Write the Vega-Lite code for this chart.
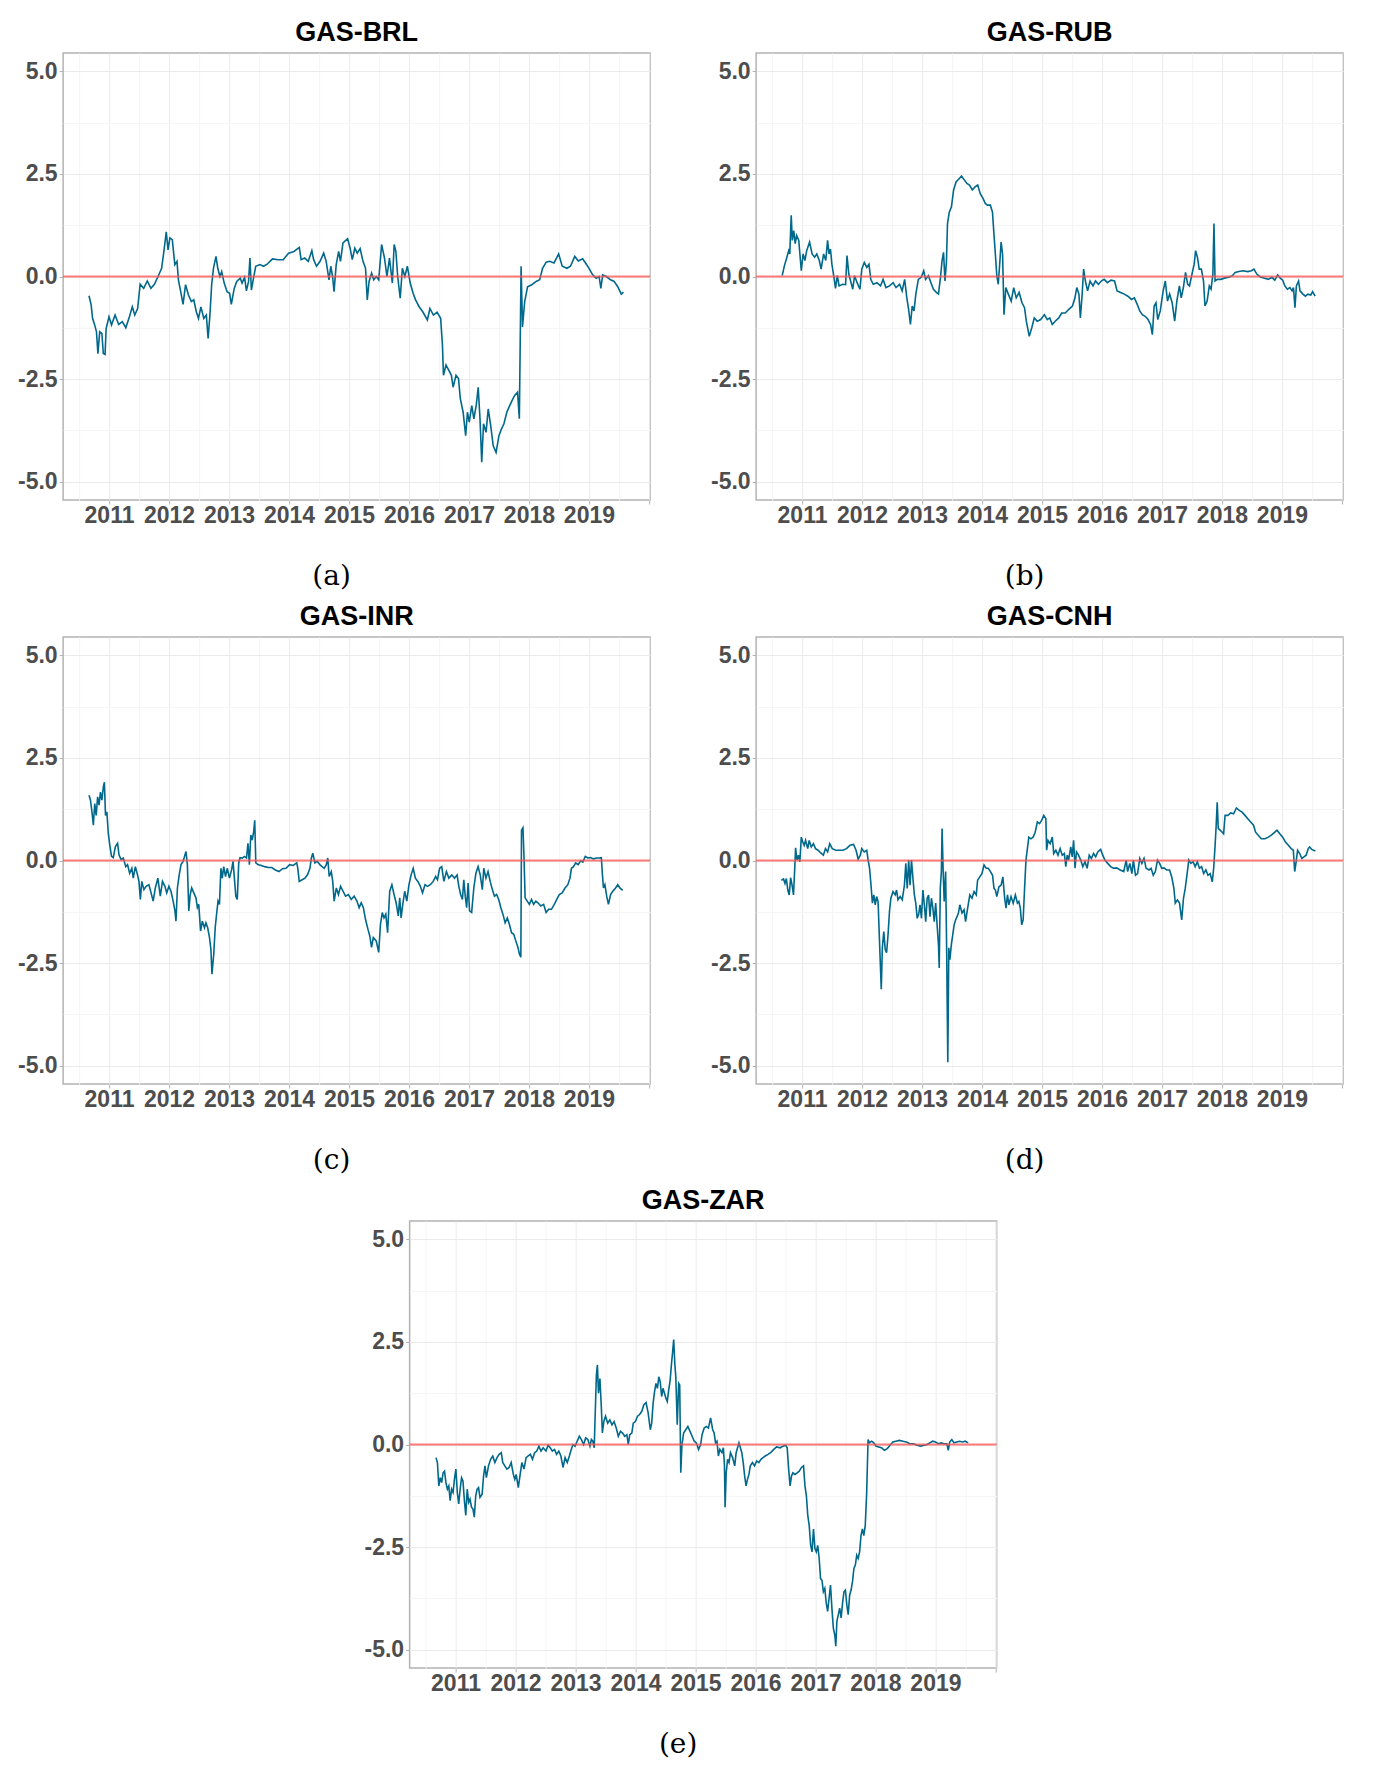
{
  "$schema": "https://vega.github.io/schema/vega-lite/v6.json",
  "padding": {"left": 16, "top": 18, "right": 5, "bottom": 5},
  "background": "white",
  "datasets": {
    "brl": [
      {"t":2010.666,"v":-0.47},{"t":2010.702,"v":-0.69},{"t":2010.726,"v":-1.02},{"t":2010.761,"v":-1.18},{"t":2010.791,"v":-1.35},{"t":2010.815,"v":-1.88},{"t":2010.845,"v":-1.35},{"t":2010.881,"v":-1.39},{"t":2010.905,"v":-1.88},{"t":2010.934,"v":-1.9},{"t":2010.952,"v":-1.27},{"t":2011.0,"v":-0.98},{"t":2011.042,"v":-1.18},{"t":2011.101,"v":-0.94},{"t":2011.161,"v":-1.17},{"t":2011.221,"v":-1.1},{"t":2011.28,"v":-1.25},{"t":2011.34,"v":-0.98},{"t":2011.388,"v":-0.74},{"t":2011.429,"v":-0.94},{"t":2011.477,"v":-0.78},{"t":2011.519,"v":-0.19},{"t":2011.578,"v":-0.29},{"t":2011.638,"v":-0.11},{"t":2011.698,"v":-0.29},{"t":2011.757,"v":-0.19},{"t":2011.817,"v":0},{"t":2011.877,"v":0.2},{"t":2011.918,"v":0.65},{"t":2011.954,"v":1.09},{"t":2011.984,"v":0.65},{"t":2012.014,"v":0.94},{"t":2012.055,"v":0.9},{"t":2012.097,"v":0.29},{"t":2012.133,"v":0.37},{"t":2012.157,"v":-0.08},{"t":2012.205,"v":-0.45},{"t":2012.234,"v":-0.68},{"t":2012.276,"v":-0.2},{"t":2012.324,"v":-0.45},{"t":2012.372,"v":-0.61},{"t":2012.413,"v":-0.57},{"t":2012.455,"v":-0.86},{"t":2012.491,"v":-1.02},{"t":2012.532,"v":-0.74},{"t":2012.58,"v":-1.02},{"t":2012.622,"v":-0.94},{"t":2012.652,"v":-1.51},{"t":2012.682,"v":-0.94},{"t":2012.711,"v":-0.2},{"t":2012.741,"v":0.2},{"t":2012.783,"v":0.49},{"t":2012.813,"v":0.2},{"t":2012.849,"v":0},{"t":2012.878,"v":0.12},{"t":2012.92,"v":-0.16},{"t":2012.968,"v":-0.37},{"t":2013.01,"v":-0.41},{"t":2013.039,"v":-0.68},{"t":2013.087,"v":-0.29},{"t":2013.129,"v":-0.12},{"t":2013.188,"v":-0.04},{"t":2013.218,"v":-0.16},{"t":2013.26,"v":-0.02},{"t":2013.29,"v":-0.35},{"t":2013.326,"v":-0.12},{"t":2013.349,"v":0.45},{"t":2013.373,"v":-0.33},{"t":2013.409,"v":-0.04},{"t":2013.445,"v":0.25},{"t":2013.516,"v":0.29},{"t":2013.576,"v":0.25},{"t":2013.636,"v":0.3},{"t":2013.725,"v":0.43},{"t":2013.815,"v":0.41},{"t":2013.904,"v":0.41},{"t":2013.993,"v":0.57},{"t":2014.083,"v":0.61},{"t":2014.172,"v":0.71},{"t":2014.202,"v":0.41},{"t":2014.262,"v":0.45},{"t":2014.321,"v":0.37},{"t":2014.381,"v":0.63},{"t":2014.411,"v":0.41},{"t":2014.459,"v":0.25},{"t":2014.518,"v":0.37},{"t":2014.578,"v":0.57},{"t":2014.62,"v":0.37},{"t":2014.667,"v":-0.08},{"t":2014.697,"v":0.25},{"t":2014.727,"v":0},{"t":2014.751,"v":-0.37},{"t":2014.787,"v":0.29},{"t":2014.828,"v":0.61},{"t":2014.858,"v":0.37},{"t":2014.9,"v":0.82},{"t":2014.977,"v":0.92},{"t":2015.019,"v":0.69},{"t":2015.055,"v":0.41},{"t":2015.097,"v":0.69},{"t":2015.138,"v":0.57},{"t":2015.186,"v":0.68},{"t":2015.234,"v":0.37},{"t":2015.276,"v":0.2},{"t":2015.305,"v":-0.57},{"t":2015.335,"v":-0.12},{"t":2015.377,"v":0.08},{"t":2015.413,"v":-0.08},{"t":2015.454,"v":0},{"t":2015.496,"v":-0.08},{"t":2015.544,"v":0.78},{"t":2015.592,"v":0.45},{"t":2015.633,"v":0},{"t":2015.675,"v":0.45},{"t":2015.723,"v":-0.16},{"t":2015.753,"v":0.78},{"t":2015.782,"v":0.61},{"t":2015.812,"v":0},{"t":2015.854,"v":-0.53},{"t":2015.89,"v":0.2},{"t":2015.931,"v":0},{"t":2015.973,"v":0.25},{"t":2016.021,"v":-0.16},{"t":2016.069,"v":-0.41},{"t":2016.11,"v":-0.57},{"t":2016.17,"v":-0.74},{"t":2016.23,"v":-0.86},{"t":2016.307,"v":-1.06},{"t":2016.349,"v":-0.78},{"t":2016.408,"v":-0.94},{"t":2016.468,"v":-0.87},{"t":2016.528,"v":-1.02},{"t":2016.558,"v":-1.67},{"t":2016.575,"v":-2.41},{"t":2016.617,"v":-2.16},{"t":2016.665,"v":-2.29},{"t":2016.707,"v":-2.41},{"t":2016.736,"v":-2.7},{"t":2016.784,"v":-2.41},{"t":2016.826,"v":-2.49},{"t":2016.856,"v":-2.98},{"t":2016.903,"v":-3.31},{"t":2016.945,"v":-3.88},{"t":2016.975,"v":-3.31},{"t":2017.005,"v":-3.55},{"t":2017.047,"v":-3.15},{"t":2017.082,"v":-3.47},{"t":2017.124,"v":-3.11},{"t":2017.154,"v":-2.7},{"t":2017.184,"v":-3.47},{"t":2017.213,"v":-4.53},{"t":2017.243,"v":-3.59},{"t":2017.285,"v":-3.8},{"t":2017.321,"v":-3.23},{"t":2017.363,"v":-3.64},{"t":2017.404,"v":-4.13},{"t":2017.452,"v":-4.29},{"t":2017.5,"v":-3.88},{"t":2017.541,"v":-3.72},{"t":2017.583,"v":-3.59},{"t":2017.631,"v":-3.31},{"t":2017.679,"v":-3.15},{"t":2017.72,"v":-3.02},{"t":2017.762,"v":-2.9},{"t":2017.81,"v":-2.82},{"t":2017.84,"v":-3.47},{"t":2017.869,"v":0.25},{"t":2017.893,"v":-1.23},{"t":2017.929,"v":-0.61},{"t":2017.977,"v":-0.25},{"t":2018.048,"v":-0.2},{"t":2018.12,"v":-0.12},{"t":2018.179,"v":-0.08},{"t":2018.227,"v":0.2},{"t":2018.287,"v":0.35},{"t":2018.346,"v":0.37},{"t":2018.418,"v":0.33},{"t":2018.495,"v":0.55},{"t":2018.555,"v":0.25},{"t":2018.633,"v":0.2},{"t":2018.692,"v":0.25},{"t":2018.764,"v":0.49},{"t":2018.823,"v":0.38},{"t":2018.895,"v":0.43},{"t":2018.943,"v":0.33},{"t":2019.002,"v":0.2},{"t":2019.062,"v":0.04},{"t":2019.122,"v":-0.04},{"t":2019.169,"v":0},{"t":2019.199,"v":-0.29},{"t":2019.229,"v":0.04},{"t":2019.289,"v":0},{"t":2019.36,"v":-0.08},{"t":2019.42,"v":-0.12},{"t":2019.48,"v":-0.25},{"t":2019.539,"v":-0.43},{"t":2019.575,"v":-0.38}
    ],
    "rub": [
      {"t":2010.67,"v":0.02},{"t":2010.706,"v":0.26},{"t":2010.748,"v":0.47},{"t":2010.778,"v":0.63},{"t":2010.796,"v":0.55},{"t":2010.82,"v":1.49},{"t":2010.838,"v":0.88},{"t":2010.862,"v":1.12},{"t":2010.886,"v":0.8},{"t":2010.91,"v":1.0},{"t":2010.946,"v":0.88},{"t":2010.988,"v":0.14},{"t":2011.018,"v":0.55},{"t":2011.048,"v":0.39},{"t":2011.078,"v":0.63},{"t":2011.126,"v":0.84},{"t":2011.168,"v":0.55},{"t":2011.21,"v":0.47},{"t":2011.246,"v":0.55},{"t":2011.288,"v":0.39},{"t":2011.318,"v":0.18},{"t":2011.36,"v":0.55},{"t":2011.396,"v":0.39},{"t":2011.426,"v":0.88},{"t":2011.45,"v":0.55},{"t":2011.474,"v":0.67},{"t":2011.498,"v":0.3},{"t":2011.528,"v":0.02},{"t":2011.558,"v":-0.29},{"t":2011.588,"v":0.02},{"t":2011.618,"v":-0.23},{"t":2011.678,"v":-0.19},{"t":2011.726,"v":-0.2},{"t":2011.75,"v":0.51},{"t":2011.78,"v":0.06},{"t":2011.81,"v":-0.11},{"t":2011.846,"v":-0.31},{"t":2011.876,"v":0.02},{"t":2011.918,"v":-0.15},{"t":2011.966,"v":-0.31},{"t":2011.996,"v":0.18},{"t":2012.038,"v":0.34},{"t":2012.08,"v":0.22},{"t":2012.116,"v":0.3},{"t":2012.146,"v":-0.07},{"t":2012.188,"v":-0.19},{"t":2012.248,"v":-0.15},{"t":2012.309,"v":-0.23},{"t":2012.351,"v":-0.07},{"t":2012.399,"v":-0.27},{"t":2012.459,"v":-0.23},{"t":2012.519,"v":-0.15},{"t":2012.567,"v":-0.27},{"t":2012.627,"v":-0.19},{"t":2012.669,"v":-0.35},{"t":2012.711,"v":-0.07},{"t":2012.747,"v":-0.52},{"t":2012.777,"v":-0.8},{"t":2012.807,"v":-1.17},{"t":2012.837,"v":-0.72},{"t":2012.867,"v":-0.84},{"t":2012.897,"v":-0.43},{"t":2012.939,"v":-0.07},{"t":2012.987,"v":-0.02},{"t":2013.029,"v":0.14},{"t":2013.059,"v":-0.07},{"t":2013.107,"v":0.02},{"t":2013.149,"v":-0.15},{"t":2013.191,"v":-0.31},{"t":2013.239,"v":-0.39},{"t":2013.275,"v":-0.43},{"t":2013.311,"v":0.02},{"t":2013.335,"v":0.39},{"t":2013.359,"v":0.59},{"t":2013.383,"v":-0.11},{"t":2013.407,"v":0.34},{"t":2013.425,"v":1.29},{"t":2013.455,"v":1.57},{"t":2013.491,"v":1.7},{"t":2013.527,"v":2.11},{"t":2013.569,"v":2.31},{"t":2013.611,"v":2.37},{"t":2013.659,"v":2.45},{"t":2013.707,"v":2.35},{"t":2013.749,"v":2.27},{"t":2013.791,"v":2.23},{"t":2013.839,"v":2.11},{"t":2013.887,"v":2.19},{"t":2013.929,"v":2.23},{"t":2013.971,"v":2.02},{"t":2014.019,"v":1.9},{"t":2014.055,"v":1.78},{"t":2014.091,"v":1.74},{"t":2014.139,"v":1.74},{"t":2014.175,"v":1.57},{"t":2014.199,"v":1.04},{"t":2014.223,"v":0.55},{"t":2014.247,"v":0.02},{"t":2014.271,"v":-0.19},{"t":2014.295,"v":0.3},{"t":2014.319,"v":0.84},{"t":2014.343,"v":0.55},{"t":2014.367,"v":-0.93},{"t":2014.397,"v":-0.27},{"t":2014.439,"v":-0.43},{"t":2014.487,"v":-0.6},{"t":2014.529,"v":-0.27},{"t":2014.571,"v":-0.52},{"t":2014.619,"v":-0.39},{"t":2014.667,"v":-0.64},{"t":2014.709,"v":-0.76},{"t":2014.739,"v":-1.09},{"t":2014.788,"v":-1.46},{"t":2014.83,"v":-1.25},{"t":2014.872,"v":-1.01},{"t":2014.92,"v":-1.09},{"t":2014.98,"v":-1.05},{"t":2015.04,"v":-0.93},{"t":2015.088,"v":-1.05},{"t":2015.13,"v":-1.01},{"t":2015.172,"v":-1.17},{"t":2015.22,"v":-1.09},{"t":2015.28,"v":-1.01},{"t":2015.328,"v":-0.89},{"t":2015.388,"v":-0.89},{"t":2015.448,"v":-0.8},{"t":2015.508,"v":-0.72},{"t":2015.55,"v":-0.52},{"t":2015.58,"v":-0.27},{"t":2015.616,"v":-0.43},{"t":2015.64,"v":-1.01},{"t":2015.67,"v":-0.43},{"t":2015.694,"v":0.18},{"t":2015.724,"v":-0.11},{"t":2015.76,"v":-0.35},{"t":2015.802,"v":-0.11},{"t":2015.85,"v":-0.23},{"t":2015.892,"v":-0.11},{"t":2015.94,"v":-0.19},{"t":2015.988,"v":-0.11},{"t":2016.036,"v":-0.07},{"t":2016.09,"v":-0.15},{"t":2016.15,"v":-0.09},{"t":2016.21,"v":-0.11},{"t":2016.252,"v":-0.35},{"t":2016.312,"v":-0.39},{"t":2016.372,"v":-0.43},{"t":2016.432,"v":-0.48},{"t":2016.492,"v":-0.56},{"t":2016.54,"v":-0.52},{"t":2016.588,"v":-0.68},{"t":2016.63,"v":-0.84},{"t":2016.672,"v":-0.93},{"t":2016.72,"v":-0.97},{"t":2016.768,"v":-1.05},{"t":2016.81,"v":-1.17},{"t":2016.84,"v":-1.42},{"t":2016.87,"v":-0.72},{"t":2016.9,"v":-0.64},{"t":2016.93,"v":-1.05},{"t":2016.972,"v":-0.84},{"t":2017.02,"v":-0.35},{"t":2017.056,"v":-0.11},{"t":2017.092,"v":-0.6},{"t":2017.128,"v":-0.43},{"t":2017.17,"v":-0.64},{"t":2017.212,"v":-1.09},{"t":2017.248,"v":-0.6},{"t":2017.291,"v":-0.23},{"t":2017.321,"v":-0.52},{"t":2017.357,"v":-0.27},{"t":2017.393,"v":0.1},{"t":2017.429,"v":-0.19},{"t":2017.459,"v":-0.23},{"t":2017.501,"v":0.06},{"t":2017.537,"v":0.3},{"t":2017.561,"v":0.63},{"t":2017.591,"v":0.47},{"t":2017.621,"v":0.18},{"t":2017.657,"v":0.18},{"t":2017.693,"v":-0.11},{"t":2017.717,"v":-0.72},{"t":2017.753,"v":-0.6},{"t":2017.789,"v":-0.23},{"t":2017.819,"v":-0.31},{"t":2017.849,"v":0.06},{"t":2017.867,"v":1.29},{"t":2017.885,"v":-0.11},{"t":2017.921,"v":-0.07},{"t":2017.981,"v":-0.07},{"t":2018.041,"v":-0.04},{"t":2018.113,"v":-0.02},{"t":2018.173,"v":0.02},{"t":2018.221,"v":0.1},{"t":2018.281,"v":0.12},{"t":2018.353,"v":0.14},{"t":2018.431,"v":0.12},{"t":2018.491,"v":0.14},{"t":2018.533,"v":0.18},{"t":2018.581,"v":0.06},{"t":2018.641,"v":-0.01},{"t":2018.713,"v":-0.04},{"t":2018.773,"v":-0.07},{"t":2018.833,"v":-0.02},{"t":2018.881,"v":-0.09},{"t":2018.929,"v":0.04},{"t":2018.971,"v":-0.04},{"t":2019.013,"v":-0.09},{"t":2019.049,"v":-0.23},{"t":2019.091,"v":-0.31},{"t":2019.133,"v":-0.27},{"t":2019.169,"v":-0.35},{"t":2019.193,"v":-0.27},{"t":2019.217,"v":-0.76},{"t":2019.241,"v":-0.23},{"t":2019.277,"v":-0.11},{"t":2019.301,"v":-0.35},{"t":2019.349,"v":-0.43},{"t":2019.391,"v":-0.48},{"t":2019.433,"v":-0.43},{"t":2019.481,"v":-0.45},{"t":2019.511,"v":-0.37},{"t":2019.553,"v":-0.48}
    ],
    "inr": [
      {"t":2010.667,"v":1.59},{"t":2010.691,"v":1.47},{"t":2010.715,"v":1.19},{"t":2010.739,"v":0.86},{"t":2010.762,"v":1.39},{"t":2010.786,"v":1.1},{"t":2010.81,"v":1.55},{"t":2010.834,"v":1.35},{"t":2010.857,"v":1.67},{"t":2010.881,"v":1.47},{"t":2010.905,"v":1.79},{"t":2010.923,"v":1.91},{"t":2010.941,"v":1.1},{"t":2010.964,"v":1.19},{"t":2010.988,"v":0.66},{"t":2011.012,"v":0.38},{"t":2011.042,"v":0.1},{"t":2011.071,"v":0.07},{"t":2011.107,"v":0.34},{"t":2011.143,"v":0.42},{"t":2011.166,"v":0.14},{"t":2011.202,"v":0.02},{"t":2011.238,"v":0.06},{"t":2011.279,"v":-0.15},{"t":2011.309,"v":-0.1},{"t":2011.344,"v":-0.31},{"t":2011.38,"v":-0.19},{"t":2011.404,"v":-0.43},{"t":2011.439,"v":-0.15},{"t":2011.475,"v":-0.35},{"t":2011.499,"v":-0.51},{"t":2011.523,"v":-0.95},{"t":2011.546,"v":-0.51},{"t":2011.582,"v":-0.71},{"t":2011.618,"v":-0.63},{"t":2011.665,"v":-0.59},{"t":2011.701,"v":-0.79},{"t":2011.736,"v":-0.99},{"t":2011.772,"v":-0.67},{"t":2011.814,"v":-0.43},{"t":2011.855,"v":-0.87},{"t":2011.891,"v":-0.51},{"t":2011.932,"v":-0.63},{"t":2011.962,"v":-0.79},{"t":2011.998,"v":-0.63},{"t":2012.033,"v":-0.75},{"t":2012.069,"v":-0.99},{"t":2012.099,"v":-1.23},{"t":2012.116,"v":-1.48},{"t":2012.14,"v":-0.67},{"t":2012.17,"v":-0.35},{"t":2012.2,"v":-0.1},{"t":2012.235,"v":-0.02},{"t":2012.259,"v":0.1},{"t":2012.283,"v":0.22},{"t":2012.306,"v":-0.1},{"t":2012.33,"v":-1.23},{"t":2012.354,"v":-0.83},{"t":2012.378,"v":-0.67},{"t":2012.413,"v":-0.79},{"t":2012.449,"v":-0.91},{"t":2012.473,"v":-1.15},{"t":2012.496,"v":-1.07},{"t":2012.526,"v":-1.72},{"t":2012.556,"v":-1.48},{"t":2012.591,"v":-1.64},{"t":2012.615,"v":-1.52},{"t":2012.645,"v":-1.64},{"t":2012.675,"v":-1.88},{"t":2012.698,"v":-2.16},{"t":2012.716,"v":-2.77},{"t":2012.746,"v":-2.28},{"t":2012.77,"v":-1.64},{"t":2012.793,"v":-1.31},{"t":2012.817,"v":-0.99},{"t":2012.841,"v":-1.07},{"t":2012.865,"v":-0.19},{"t":2012.888,"v":-0.43},{"t":2012.912,"v":-0.15},{"t":2012.942,"v":-0.39},{"t":2012.971,"v":-0.19},{"t":2013.007,"v":-0.43},{"t":2013.043,"v":-0.23},{"t":2013.067,"v":-0.02},{"t":2013.09,"v":-0.43},{"t":2013.114,"v":-0.87},{"t":2013.138,"v":-0.95},{"t":2013.162,"v":-0.06},{"t":2013.185,"v":0.07},{"t":2013.221,"v":0.06},{"t":2013.257,"v":0.1},{"t":2013.292,"v":0.06},{"t":2013.316,"v":0.42},{"t":2013.34,"v":-0.1},{"t":2013.363,"v":0.62},{"t":2013.387,"v":0.5},{"t":2013.411,"v":0.7},{"t":2013.429,"v":0.98},{"t":2013.447,"v":-0.06},{"t":2013.482,"v":-0.1},{"t":2013.536,"v":-0.12},{"t":2013.595,"v":-0.15},{"t":2013.654,"v":-0.17},{"t":2013.714,"v":-0.17},{"t":2013.773,"v":-0.23},{"t":2013.833,"v":-0.27},{"t":2013.892,"v":-0.2},{"t":2013.951,"v":-0.19},{"t":2014.011,"v":-0.1},{"t":2014.07,"v":-0.12},{"t":2014.129,"v":-0.06},{"t":2014.147,"v":-0.19},{"t":2014.171,"v":-0.51},{"t":2014.219,"v":-0.47},{"t":2014.266,"v":-0.43},{"t":2014.308,"v":-0.35},{"t":2014.349,"v":-0.19},{"t":2014.373,"v":0.06},{"t":2014.397,"v":0.18},{"t":2014.432,"v":-0.06},{"t":2014.468,"v":-0.02},{"t":2014.515,"v":-0.1},{"t":2014.551,"v":-0.15},{"t":2014.587,"v":-0.19},{"t":2014.622,"v":-0.1},{"t":2014.646,"v":0.06},{"t":2014.67,"v":-0.39},{"t":2014.705,"v":-0.27},{"t":2014.729,"v":-0.51},{"t":2014.753,"v":-0.99},{"t":2014.789,"v":-0.67},{"t":2014.824,"v":-0.83},{"t":2014.86,"v":-0.63},{"t":2014.901,"v":-0.75},{"t":2014.943,"v":-0.87},{"t":2014.99,"v":-0.83},{"t":2015.038,"v":-0.95},{"t":2015.086,"v":-0.87},{"t":2015.133,"v":-0.99},{"t":2015.169,"v":-1.15},{"t":2015.204,"v":-1.03},{"t":2015.24,"v":-1.15},{"t":2015.276,"v":-1.44},{"t":2015.317,"v":-1.68},{"t":2015.347,"v":-1.84},{"t":2015.376,"v":-2.12},{"t":2015.406,"v":-1.88},{"t":2015.454,"v":-1.96},{"t":2015.495,"v":-2.24},{"t":2015.525,"v":-1.56},{"t":2015.555,"v":-1.27},{"t":2015.584,"v":-1.4},{"t":2015.614,"v":-1.31},{"t":2015.644,"v":-1.76},{"t":2015.679,"v":-0.75},{"t":2015.715,"v":-0.59},{"t":2015.751,"v":-0.83},{"t":2015.786,"v":-1.03},{"t":2015.822,"v":-1.35},{"t":2015.846,"v":-0.91},{"t":2015.869,"v":-1.4},{"t":2015.893,"v":-1.11},{"t":2015.929,"v":-0.75},{"t":2015.964,"v":-0.99},{"t":2016.0,"v":-0.59},{"t":2016.036,"v":-0.35},{"t":2016.071,"v":-0.19},{"t":2016.107,"v":-0.43},{"t":2016.148,"v":-0.51},{"t":2016.19,"v":-0.63},{"t":2016.226,"v":-0.79},{"t":2016.267,"v":-0.59},{"t":2016.309,"v":-0.63},{"t":2016.356,"v":-0.59},{"t":2016.404,"v":-0.51},{"t":2016.445,"v":-0.39},{"t":2016.475,"v":-0.47},{"t":2016.511,"v":-0.19},{"t":2016.546,"v":-0.15},{"t":2016.582,"v":-0.51},{"t":2016.624,"v":-0.27},{"t":2016.665,"v":-0.43},{"t":2016.713,"v":-0.35},{"t":2016.76,"v":-0.43},{"t":2016.802,"v":-0.35},{"t":2016.831,"v":-0.63},{"t":2016.861,"v":-0.83},{"t":2016.891,"v":-0.95},{"t":2016.914,"v":-0.47},{"t":2016.938,"v":-0.87},{"t":2016.962,"v":-1.15},{"t":2016.986,"v":-0.55},{"t":2017.01,"v":-1.23},{"t":2017.045,"v":-1.27},{"t":2017.081,"v":-0.67},{"t":2017.116,"v":-0.31},{"t":2017.152,"v":-0.15},{"t":2017.188,"v":-0.35},{"t":2017.223,"v":-0.71},{"t":2017.247,"v":-0.19},{"t":2017.283,"v":-0.43},{"t":2017.318,"v":-0.27},{"t":2017.354,"v":-0.51},{"t":2017.39,"v":-0.71},{"t":2017.425,"v":-0.87},{"t":2017.461,"v":-0.83},{"t":2017.496,"v":-0.95},{"t":2017.532,"v":-1.15},{"t":2017.574,"v":-1.35},{"t":2017.603,"v":-1.52},{"t":2017.639,"v":-1.4},{"t":2017.675,"v":-1.56},{"t":2017.71,"v":-1.76},{"t":2017.746,"v":-1.8},{"t":2017.781,"v":-1.96},{"t":2017.817,"v":-2.12},{"t":2017.841,"v":-2.28},{"t":2017.865,"v":-2.36},{"t":2017.876,"v":0.74},{"t":2017.9,"v":0.8},{"t":2017.918,"v":0.06},{"t":2017.936,"v":-0.91},{"t":2017.971,"v":-0.99},{"t":2018.007,"v":-1.07},{"t":2018.043,"v":-0.95},{"t":2018.078,"v":-1.07},{"t":2018.114,"v":-0.99},{"t":2018.15,"v":-1.03},{"t":2018.197,"v":-1.11},{"t":2018.245,"v":-1.07},{"t":2018.286,"v":-1.27},{"t":2018.328,"v":-1.19},{"t":2018.375,"v":-1.19},{"t":2018.423,"v":-1.07},{"t":2018.464,"v":-0.95},{"t":2018.506,"v":-0.83},{"t":2018.553,"v":-0.79},{"t":2018.601,"v":-0.67},{"t":2018.648,"v":-0.59},{"t":2018.684,"v":-0.43},{"t":2018.708,"v":-0.19},{"t":2018.743,"v":-0.15},{"t":2018.779,"v":-0.06},{"t":2018.821,"v":-0.1},{"t":2018.862,"v":-0.01},{"t":2018.898,"v":-0.04},{"t":2018.939,"v":0.1},{"t":2018.981,"v":0.06},{"t":2019.029,"v":0.07},{"t":2019.076,"v":0.04},{"t":2019.124,"v":0.06},{"t":2019.171,"v":0.06},{"t":2019.207,"v":0.07},{"t":2019.225,"v":-0.35},{"t":2019.242,"v":-0.67},{"t":2019.266,"v":-0.59},{"t":2019.296,"v":-0.87},{"t":2019.325,"v":-1.07},{"t":2019.361,"v":-0.83},{"t":2019.397,"v":-0.75},{"t":2019.444,"v":-0.67},{"t":2019.48,"v":-0.59},{"t":2019.515,"v":-0.67},{"t":2019.563,"v":-0.73}
    ],
    "cnh": [
      {"t":2010.656,"v":-0.48},{"t":2010.692,"v":-0.45},{"t":2010.716,"v":-0.56},{"t":2010.739,"v":-0.44},{"t":2010.763,"v":-0.72},{"t":2010.787,"v":-0.84},{"t":2010.81,"v":-0.42},{"t":2010.834,"v":-0.6},{"t":2010.858,"v":-0.84},{"t":2010.881,"v":-0.11},{"t":2010.893,"v":0.31},{"t":2010.917,"v":0.01},{"t":2010.941,"v":0.13},{"t":2010.964,"v":-0.03},{"t":2010.988,"v":0.57},{"t":2011.012,"v":0.45},{"t":2011.036,"v":0.37},{"t":2011.059,"v":0.49},{"t":2011.095,"v":0.29},{"t":2011.119,"v":0.49},{"t":2011.154,"v":0.33},{"t":2011.19,"v":0.41},{"t":2011.225,"v":0.29},{"t":2011.267,"v":0.25},{"t":2011.308,"v":0.19},{"t":2011.356,"v":0.13},{"t":2011.391,"v":0.29},{"t":2011.427,"v":0.21},{"t":2011.462,"v":0.41},{"t":2011.504,"v":0.29},{"t":2011.563,"v":0.25},{"t":2011.622,"v":0.25},{"t":2011.681,"v":0.25},{"t":2011.741,"v":0.29},{"t":2011.8,"v":0.37},{"t":2011.859,"v":0.39},{"t":2011.901,"v":0.25},{"t":2011.936,"v":0.03},{"t":2011.972,"v":0.13},{"t":2011.996,"v":0.29},{"t":2012.037,"v":0.21},{"t":2012.079,"v":0.25},{"t":2012.102,"v":0.01},{"t":2012.126,"v":-0.19},{"t":2012.15,"v":-0.6},{"t":2012.173,"v":-1.04},{"t":2012.197,"v":-0.84},{"t":2012.221,"v":-1.08},{"t":2012.244,"v":-0.88},{"t":2012.268,"v":-1.0},{"t":2012.286,"v":-1.73},{"t":2012.304,"v":-2.46},{"t":2012.321,"v":-3.14},{"t":2012.339,"v":-2.13},{"t":2012.363,"v":-1.73},{"t":2012.387,"v":-2.17},{"t":2012.41,"v":-2.25},{"t":2012.434,"v":-1.81},{"t":2012.458,"v":-1.24},{"t":2012.481,"v":-0.92},{"t":2012.517,"v":-0.76},{"t":2012.553,"v":-0.84},{"t":2012.576,"v":-0.72},{"t":2012.6,"v":-0.96},{"t":2012.636,"v":-0.88},{"t":2012.671,"v":-0.96},{"t":2012.707,"v":-0.6},{"t":2012.73,"v":-0.07},{"t":2012.754,"v":-0.68},{"t":2012.778,"v":0.01},{"t":2012.801,"v":-0.6},{"t":2012.825,"v":0.01},{"t":2012.849,"v":-0.44},{"t":2012.873,"v":-0.84},{"t":2012.896,"v":-1.04},{"t":2012.92,"v":-1.41},{"t":2012.944,"v":-1.32},{"t":2012.967,"v":-1.08},{"t":2012.991,"v":-1.41},{"t":2013.015,"v":-0.72},{"t":2013.044,"v":-1.16},{"t":2013.062,"v":-1.49},{"t":2013.086,"v":-0.92},{"t":2013.11,"v":-0.84},{"t":2013.133,"v":-1.37},{"t":2013.157,"v":-0.92},{"t":2013.181,"v":-1.16},{"t":2013.204,"v":-1.49},{"t":2013.228,"v":-1.04},{"t":2013.252,"v":-1.57},{"t":2013.276,"v":-2.09},{"t":2013.287,"v":-2.62},{"t":2013.305,"v":-0.68},{"t":2013.323,"v":-0.27},{"t":2013.335,"v":0.78},{"t":2013.353,"v":-0.27},{"t":2013.37,"v":-1.0},{"t":2013.394,"v":-0.27},{"t":2013.412,"v":-2.29},{"t":2013.43,"v":-4.92},{"t":2013.447,"v":-2.13},{"t":2013.465,"v":-2.42},{"t":2013.489,"v":-2.05},{"t":2013.513,"v":-1.81},{"t":2013.536,"v":-1.57},{"t":2013.56,"v":-1.45},{"t":2013.584,"v":-1.37},{"t":2013.607,"v":-1.28},{"t":2013.631,"v":-1.08},{"t":2013.667,"v":-1.28},{"t":2013.702,"v":-1.2},{"t":2013.726,"v":-1.49},{"t":2013.761,"v":-1.16},{"t":2013.797,"v":-0.84},{"t":2013.833,"v":-0.92},{"t":2013.868,"v":-0.76},{"t":2013.904,"v":-0.84},{"t":2013.927,"v":-0.48},{"t":2013.963,"v":-0.4},{"t":2013.999,"v":-0.32},{"t":2014.034,"v":-0.11},{"t":2014.07,"v":-0.19},{"t":2014.105,"v":-0.19},{"t":2014.141,"v":-0.27},{"t":2014.176,"v":-0.36},{"t":2014.2,"v":-0.68},{"t":2014.224,"v":-0.72},{"t":2014.247,"v":-0.88},{"t":2014.283,"v":-0.64},{"t":2014.319,"v":-0.6},{"t":2014.348,"v":-0.4},{"t":2014.378,"v":-0.92},{"t":2014.401,"v":-1.16},{"t":2014.425,"v":-0.84},{"t":2014.449,"v":-1.08},{"t":2014.484,"v":-0.88},{"t":2014.52,"v":-1.04},{"t":2014.556,"v":-0.84},{"t":2014.591,"v":-1.04},{"t":2014.615,"v":-1.0},{"t":2014.639,"v":-1.16},{"t":2014.662,"v":-1.57},{"t":2014.686,"v":-1.45},{"t":2014.71,"v":-0.68},{"t":2014.733,"v":0.01},{"t":2014.757,"v":0.29},{"t":2014.781,"v":0.57},{"t":2014.816,"v":0.53},{"t":2014.852,"v":0.57},{"t":2014.887,"v":0.69},{"t":2014.923,"v":0.94},{"t":2014.959,"v":0.9},{"t":2014.994,"v":0.98},{"t":2015.03,"v":1.1},{"t":2015.065,"v":1.02},{"t":2015.077,"v":0.25},{"t":2015.101,"v":0.49},{"t":2015.136,"v":0.41},{"t":2015.172,"v":0.57},{"t":2015.196,"v":0.17},{"t":2015.231,"v":0.25},{"t":2015.267,"v":0.13},{"t":2015.302,"v":0.29},{"t":2015.338,"v":0.13},{"t":2015.373,"v":0.17},{"t":2015.397,"v":-0.15},{"t":2015.421,"v":0.13},{"t":2015.444,"v":0.01},{"t":2015.48,"v":0.33},{"t":2015.504,"v":0.09},{"t":2015.527,"v":0.49},{"t":2015.551,"v":-0.19},{"t":2015.575,"v":0.21},{"t":2015.61,"v":0.13},{"t":2015.646,"v":0.01},{"t":2015.681,"v":-0.15},{"t":2015.717,"v":-0.03},{"t":2015.753,"v":-0.19},{"t":2015.788,"v":0.13},{"t":2015.824,"v":0.05},{"t":2015.859,"v":0.17},{"t":2015.895,"v":0.09},{"t":2015.93,"v":0.21},{"t":2015.978,"v":0.27},{"t":2016.013,"v":0.13},{"t":2016.049,"v":0.01},{"t":2016.096,"v":-0.07},{"t":2016.144,"v":-0.15},{"t":2016.191,"v":-0.19},{"t":2016.244,"v":-0.18},{"t":2016.304,"v":-0.23},{"t":2016.363,"v":-0.27},{"t":2016.404,"v":0.01},{"t":2016.428,"v":-0.27},{"t":2016.464,"v":-0.07},{"t":2016.499,"v":-0.32},{"t":2016.523,"v":0.01},{"t":2016.559,"v":-0.36},{"t":2016.594,"v":-0.32},{"t":2016.63,"v":0.05},{"t":2016.665,"v":-0.07},{"t":2016.701,"v":0.05},{"t":2016.736,"v":-0.19},{"t":2016.784,"v":-0.23},{"t":2016.819,"v":-0.19},{"t":2016.855,"v":-0.36},{"t":2016.89,"v":-0.27},{"t":2016.926,"v":0.01},{"t":2016.961,"v":-0.07},{"t":2016.997,"v":-0.19},{"t":2017.033,"v":-0.18},{"t":2017.08,"v":-0.23},{"t":2017.127,"v":-0.23},{"t":2017.163,"v":-0.4},{"t":2017.199,"v":-0.68},{"t":2017.222,"v":-1.04},{"t":2017.258,"v":-0.96},{"t":2017.293,"v":-1.04},{"t":2017.329,"v":-1.45},{"t":2017.359,"v":-0.92},{"t":2017.388,"v":-0.68},{"t":2017.424,"v":-0.27},{"t":2017.447,"v":0.01},{"t":2017.483,"v":-0.07},{"t":2017.519,"v":-0.03},{"t":2017.554,"v":-0.15},{"t":2017.59,"v":-0.03},{"t":2017.625,"v":-0.19},{"t":2017.661,"v":-0.15},{"t":2017.696,"v":-0.32},{"t":2017.732,"v":-0.23},{"t":2017.767,"v":-0.36},{"t":2017.803,"v":-0.32},{"t":2017.839,"v":-0.52},{"t":2017.862,"v":-0.19},{"t":2017.886,"v":0.37},{"t":2017.904,"v":0.86},{"t":2017.921,"v":1.42},{"t":2017.939,"v":0.78},{"t":2017.969,"v":0.74},{"t":2018.004,"v":0.69},{"t":2018.028,"v":0.65},{"t":2018.052,"v":1.1},{"t":2018.099,"v":1.1},{"t":2018.147,"v":1.16},{"t":2018.194,"v":1.14},{"t":2018.241,"v":1.28},{"t":2018.289,"v":1.22},{"t":2018.336,"v":1.18},{"t":2018.384,"v":1.1},{"t":2018.431,"v":1.02},{"t":2018.479,"v":0.94},{"t":2018.526,"v":0.86},{"t":2018.561,"v":0.69},{"t":2018.609,"v":0.61},{"t":2018.656,"v":0.53},{"t":2018.716,"v":0.53},{"t":2018.775,"v":0.57},{"t":2018.834,"v":0.63},{"t":2018.881,"v":0.69},{"t":2018.917,"v":0.74},{"t":2018.964,"v":0.65},{"t":2019.012,"v":0.57},{"t":2019.059,"v":0.45},{"t":2019.107,"v":0.37},{"t":2019.154,"v":0.29},{"t":2019.19,"v":0.25},{"t":2019.213,"v":-0.27},{"t":2019.237,"v":-0.03},{"t":2019.261,"v":0.25},{"t":2019.296,"v":0.17},{"t":2019.332,"v":0.05},{"t":2019.367,"v":0.09},{"t":2019.403,"v":0.13},{"t":2019.439,"v":0.29},{"t":2019.462,"v":0.33},{"t":2019.498,"v":0.27},{"t":2019.557,"v":0.23}
    ],
    "zar": [
      {"t":2010.675,"v":-0.32},{"t":2010.698,"v":-0.44},{"t":2010.722,"v":-1.01},{"t":2010.746,"v":-0.81},{"t":2010.769,"v":-0.93},{"t":2010.793,"v":-0.69},{"t":2010.817,"v":-0.65},{"t":2010.84,"v":-0.93},{"t":2010.864,"v":-1.09},{"t":2010.888,"v":-1.01},{"t":2010.911,"v":-1.37},{"t":2010.935,"v":-1.09},{"t":2010.959,"v":-1.17},{"t":2010.982,"v":-0.85},{"t":2011.006,"v":-0.6},{"t":2011.03,"v":-1.17},{"t":2011.053,"v":-1.45},{"t":2011.077,"v":-1.09},{"t":2011.101,"v":-0.81},{"t":2011.124,"v":-0.89},{"t":2011.148,"v":-1.37},{"t":2011.171,"v":-1.73},{"t":2011.195,"v":-1.09},{"t":2011.219,"v":-1.41},{"t":2011.242,"v":-1.33},{"t":2011.266,"v":-1.53},{"t":2011.29,"v":-1.57},{"t":2011.313,"v":-1.77},{"t":2011.337,"v":-1.25},{"t":2011.361,"v":-1.09},{"t":2011.384,"v":-1.05},{"t":2011.408,"v":-1.29},{"t":2011.444,"v":-1.21},{"t":2011.467,"v":-0.77},{"t":2011.491,"v":-0.52},{"t":2011.514,"v":-0.81},{"t":2011.55,"v":-0.52},{"t":2011.585,"v":-0.36},{"t":2011.621,"v":-0.28},{"t":2011.656,"v":-0.44},{"t":2011.692,"v":-0.32},{"t":2011.727,"v":-0.24},{"t":2011.763,"v":-0.2},{"t":2011.787,"v":-0.44},{"t":2011.822,"v":-0.52},{"t":2011.857,"v":-0.6},{"t":2011.893,"v":-0.56},{"t":2011.928,"v":-0.44},{"t":2011.964,"v":-0.73},{"t":2011.988,"v":-0.85},{"t":2012.011,"v":-0.73},{"t":2012.047,"v":-1.05},{"t":2012.07,"v":-0.81},{"t":2012.106,"v":-0.44},{"t":2012.141,"v":-0.6},{"t":2012.177,"v":-0.32},{"t":2012.212,"v":-0.28},{"t":2012.248,"v":-0.24},{"t":2012.283,"v":-0.36},{"t":2012.319,"v":-0.2},{"t":2012.354,"v":-0.16},{"t":2012.39,"v":-0.04},{"t":2012.425,"v":-0.16},{"t":2012.461,"v":-0.08},{"t":2012.508,"v":-0.16},{"t":2012.543,"v":-0.02},{"t":2012.579,"v":-0.08},{"t":2012.614,"v":-0.16},{"t":2012.65,"v":-0.12},{"t":2012.685,"v":-0.24},{"t":2012.721,"v":-0.16},{"t":2012.756,"v":-0.28},{"t":2012.792,"v":-0.56},{"t":2012.827,"v":-0.32},{"t":2012.863,"v":-0.44},{"t":2012.898,"v":-0.28},{"t":2012.922,"v":-0.16},{"t":2012.957,"v":0},{"t":2012.993,"v":-0.04},{"t":2013.028,"v":0.08},{"t":2013.064,"v":0.2},{"t":2013.099,"v":0.12},{"t":2013.135,"v":0},{"t":2013.17,"v":0.16},{"t":2013.206,"v":0.12},{"t":2013.241,"v":-0.04},{"t":2013.265,"v":0.12},{"t":2013.289,"v":0.08},{"t":2013.312,"v":-0.08},{"t":2013.324,"v":0.52},{"t":2013.348,"v":1.69},{"t":2013.365,"v":1.94},{"t":2013.383,"v":1.25},{"t":2013.407,"v":1.61},{"t":2013.43,"v":0.93},{"t":2013.448,"v":0.28},{"t":2013.472,"v":0.56},{"t":2013.501,"v":0.69},{"t":2013.537,"v":0.52},{"t":2013.572,"v":0.6},{"t":2013.608,"v":0.48},{"t":2013.643,"v":0.56},{"t":2013.679,"v":0.4},{"t":2013.714,"v":0.2},{"t":2013.75,"v":0.32},{"t":2013.785,"v":0.28},{"t":2013.821,"v":0.2},{"t":2013.856,"v":0.24},{"t":2013.88,"v":0},{"t":2013.904,"v":0.24},{"t":2013.939,"v":0.28},{"t":2013.963,"v":0.52},{"t":2013.998,"v":0.56},{"t":2014.034,"v":0.69},{"t":2014.069,"v":0.73},{"t":2014.105,"v":0.81},{"t":2014.14,"v":0.97},{"t":2014.176,"v":1.02},{"t":2014.211,"v":0.77},{"t":2014.247,"v":0.36},{"t":2014.27,"v":0.52},{"t":2014.294,"v":1.01},{"t":2014.318,"v":1.29},{"t":2014.341,"v":1.49},{"t":2014.365,"v":1.37},{"t":2014.389,"v":1.65},{"t":2014.412,"v":1.53},{"t":2014.436,"v":1.17},{"t":2014.459,"v":1.37},{"t":2014.483,"v":1.25},{"t":2014.507,"v":1.13},{"t":2014.53,"v":1.05},{"t":2014.554,"v":1.33},{"t":2014.578,"v":1.57},{"t":2014.601,"v":1.98},{"t":2014.619,"v":2.26},{"t":2014.637,"v":2.56},{"t":2014.655,"v":1.98},{"t":2014.672,"v":1.65},{"t":2014.696,"v":0.48},{"t":2014.72,"v":1.49},{"t":2014.737,"v":1.45},{"t":2014.755,"v":-0.69},{"t":2014.773,"v":-0.04},{"t":2014.802,"v":0.28},{"t":2014.838,"v":0.36},{"t":2014.873,"v":0.44},{"t":2014.909,"v":0.32},{"t":2014.944,"v":0.2},{"t":2014.98,"v":0.08},{"t":2015.015,"v":0.04},{"t":2015.051,"v":-0.12},{"t":2015.086,"v":0},{"t":2015.11,"v":0.24},{"t":2015.145,"v":0.4},{"t":2015.181,"v":0.44},{"t":2015.216,"v":0.4},{"t":2015.252,"v":0.65},{"t":2015.287,"v":0.36},{"t":2015.311,"v":0.28},{"t":2015.335,"v":0.04},{"t":2015.358,"v":0.08},{"t":2015.382,"v":-0.28},{"t":2015.406,"v":-0.12},{"t":2015.441,"v":-0.2},{"t":2015.465,"v":-0.08},{"t":2015.483,"v":-0.52},{"t":2015.494,"v":-1.53},{"t":2015.512,"v":-0.69},{"t":2015.536,"v":-0.36},{"t":2015.559,"v":-0.44},{"t":2015.583,"v":-0.2},{"t":2015.619,"v":-0.32},{"t":2015.654,"v":-0.52},{"t":2015.678,"v":-0.2},{"t":2015.701,"v":-0.08},{"t":2015.725,"v":0.04},{"t":2015.749,"v":-0.08},{"t":2015.772,"v":-0.2},{"t":2015.796,"v":-0.44},{"t":2015.82,"v":-0.77},{"t":2015.843,"v":-1.01},{"t":2015.867,"v":-0.85},{"t":2015.891,"v":-0.73},{"t":2015.914,"v":-0.52},{"t":2015.95,"v":-0.44},{"t":2015.985,"v":-0.52},{"t":2016.021,"v":-0.4},{"t":2016.056,"v":-0.44},{"t":2016.092,"v":-0.36},{"t":2016.127,"v":-0.32},{"t":2016.163,"v":-0.28},{"t":2016.21,"v":-0.24},{"t":2016.257,"v":-0.19},{"t":2016.305,"v":-0.12},{"t":2016.352,"v":-0.06},{"t":2016.411,"v":-0.08},{"t":2016.458,"v":-0.04},{"t":2016.506,"v":-0.02},{"t":2016.529,"v":-0.08},{"t":2016.553,"v":-0.6},{"t":2016.577,"v":-1.01},{"t":2016.6,"v":-0.77},{"t":2016.624,"v":-0.69},{"t":2016.659,"v":-0.73},{"t":2016.695,"v":-0.69},{"t":2016.73,"v":-0.65},{"t":2016.766,"v":-0.56},{"t":2016.801,"v":-0.52},{"t":2016.825,"v":-1.01},{"t":2016.849,"v":-1.25},{"t":2016.872,"v":-1.73},{"t":2016.896,"v":-1.98},{"t":2016.92,"v":-2.46},{"t":2016.943,"v":-2.62},{"t":2016.967,"v":-2.06},{"t":2016.991,"v":-2.54},{"t":2017.014,"v":-2.62},{"t":2017.038,"v":-2.46},{"t":2017.062,"v":-2.78},{"t":2017.085,"v":-3.27},{"t":2017.109,"v":-3.31},{"t":2017.132,"v":-3.59},{"t":2017.156,"v":-3.51},{"t":2017.18,"v":-3.87},{"t":2017.203,"v":-4.07},{"t":2017.227,"v":-3.75},{"t":2017.251,"v":-3.43},{"t":2017.274,"v":-3.99},{"t":2017.298,"v":-4.48},{"t":2017.322,"v":-4.64},{"t":2017.339,"v":-4.92},{"t":2017.357,"v":-4.31},{"t":2017.381,"v":-4.15},{"t":2017.404,"v":-3.99},{"t":2017.428,"v":-4.23},{"t":2017.452,"v":-3.87},{"t":2017.475,"v":-3.59},{"t":2017.499,"v":-3.55},{"t":2017.523,"v":-3.91},{"t":2017.546,"v":-4.15},{"t":2017.57,"v":-3.67},{"t":2017.594,"v":-3.55},{"t":2017.617,"v":-3.35},{"t":2017.641,"v":-3.02},{"t":2017.665,"v":-2.94},{"t":2017.688,"v":-2.7},{"t":2017.712,"v":-2.78},{"t":2017.736,"v":-2.62},{"t":2017.759,"v":-2.22},{"t":2017.783,"v":-2.06},{"t":2017.806,"v":-2.22},{"t":2017.83,"v":-1.98},{"t":2017.854,"v":-1.17},{"t":2017.877,"v":0.12},{"t":2017.901,"v":0.04},{"t":2017.937,"v":0.08},{"t":2017.972,"v":0.04},{"t":2018.008,"v":-0.04},{"t":2018.055,"v":-0.06},{"t":2018.102,"v":-0.08},{"t":2018.149,"v":-0.14},{"t":2018.197,"v":-0.1},{"t":2018.244,"v":-0.02},{"t":2018.291,"v":0.06},{"t":2018.339,"v":0.08},{"t":2018.398,"v":0.1},{"t":2018.457,"v":0.08},{"t":2018.516,"v":0.06},{"t":2018.575,"v":0.02},{"t":2018.634,"v":0.02},{"t":2018.694,"v":-0.02},{"t":2018.753,"v":-0.04},{"t":2018.812,"v":-0.02},{"t":2018.859,"v":0},{"t":2018.906,"v":0.04},{"t":2018.954,"v":0.08},{"t":2019.001,"v":0.06},{"t":2019.048,"v":0.02},{"t":2019.096,"v":0.04},{"t":2019.143,"v":0.02},{"t":2019.19,"v":0.02},{"t":2019.214,"v":-0.14},{"t":2019.238,"v":0.06},{"t":2019.273,"v":0.12},{"t":2019.309,"v":0.04},{"t":2019.356,"v":0.06},{"t":2019.403,"v":0.08},{"t":2019.451,"v":0.06},{"t":2019.498,"v":0.08},{"t":2019.545,"v":0.04}
    ]
  },
  "vconcat": [
    {
      "hconcat": [
        {
          "title": "GAS-BRL",
          "width": 587,
          "height": 447,
          "layer": [
            {
              "data": {"name": "brl"},
              "mark": {"type": "line", "color": "#00688b", "strokeWidth": 1.6},
              "encoding": {
                "x": {"field": "t", "type": "quantitative", "scale": {"domain": [2010.235, 2020.02], "nice": false, "zero": false},
                  "axis": {"title": "(a)", "titleX": 268, "values": [2010.5,2011,2011.5,2012,2012.5,2013,2013.5,2014,2014.5,2015,2015.5,2016,2016.5,2017,2017.5,2018,2018.5,2019,2019.5,2020],
                    "labelExpr": "datum.value % 1 === 0 && datum.value < 2020 ? format(datum.value, 'd') : ''",
                    "tickOpacity": {"condition": {"test": "datum.value % 1 !== 0", "value": 0}, "value": 1},
                    "gridColor": {"condition": {"test": "datum.value % 1 !== 0", "value": "#f5f5f5"}, "value": "#ebebeb"}}},
                "y": {"field": "v", "type": "quantitative", "scale": {"domain": [-5.45, 5.45], "nice": false},
                  "axis": {"title": null, "values": [-5,-3.75,-2.5,-1.25,0,1.25,2.5,3.75,5],
                    "labelExpr": "datum.value % 2.5 === 0 ? (datum.value < 0 ? '-' : '') + format(abs(datum.value), '.1f') : ''",
                    "tickOpacity": {"condition": {"test": "datum.value % 2.5 !== 0", "value": 0}, "value": 1},
                    "gridColor": {"condition": {"test": "datum.value % 2.5 !== 0", "value": "#f5f5f5"}, "value": "#ebebeb"}}}
              }
            },
            {
              "data": {"values": [{}]},
              "mark": {"type": "rule", "color": "#ff4d4d", "strokeWidth": 2, "opacity": 0.75},
              "encoding": {"y": {"datum": 0}}
            }
          ]
        },
        {
          "title": "GAS-RUB",
          "width": 587,
          "height": 447,
          "layer": [
            {
              "data": {"name": "rub"},
              "mark": {"type": "line", "color": "#00688b", "strokeWidth": 1.6},
              "encoding": {
                "x": {"field": "t", "type": "quantitative", "scale": {"domain": [2010.235, 2020.02], "nice": false, "zero": false},
                  "axis": {"title": "(b)", "titleX": 268, "values": [2010.5,2011,2011.5,2012,2012.5,2013,2013.5,2014,2014.5,2015,2015.5,2016,2016.5,2017,2017.5,2018,2018.5,2019,2019.5,2020],
                    "labelExpr": "datum.value % 1 === 0 && datum.value < 2020 ? format(datum.value, 'd') : ''",
                    "tickOpacity": {"condition": {"test": "datum.value % 1 !== 0", "value": 0}, "value": 1},
                    "gridColor": {"condition": {"test": "datum.value % 1 !== 0", "value": "#f5f5f5"}, "value": "#ebebeb"}}},
                "y": {"field": "v", "type": "quantitative", "scale": {"domain": [-5.45, 5.45], "nice": false},
                  "axis": {"title": null, "values": [-5,-3.75,-2.5,-1.25,0,1.25,2.5,3.75,5],
                    "labelExpr": "datum.value % 2.5 === 0 ? (datum.value < 0 ? '-' : '') + format(abs(datum.value), '.1f') : ''",
                    "tickOpacity": {"condition": {"test": "datum.value % 2.5 !== 0", "value": 0}, "value": 1},
                    "gridColor": {"condition": {"test": "datum.value % 2.5 !== 0", "value": "#f5f5f5"}, "value": "#ebebeb"}}}
              }
            },
            {
              "data": {"values": [{}]},
              "mark": {"type": "rule", "color": "#ff4d4d", "strokeWidth": 2, "opacity": 0.75},
              "encoding": {"y": {"datum": 0}}
            }
          ]
        }
      ]
    },
    {
      "hconcat": [
        {
          "title": "GAS-INR",
          "width": 587,
          "height": 447,
          "layer": [
            {
              "data": {"name": "inr"},
              "mark": {"type": "line", "color": "#00688b", "strokeWidth": 1.6},
              "encoding": {
                "x": {"field": "t", "type": "quantitative", "scale": {"domain": [2010.235, 2020.02], "nice": false, "zero": false},
                  "axis": {"title": "(c)", "titleX": 268, "values": [2010.5,2011,2011.5,2012,2012.5,2013,2013.5,2014,2014.5,2015,2015.5,2016,2016.5,2017,2017.5,2018,2018.5,2019,2019.5,2020],
                    "labelExpr": "datum.value % 1 === 0 && datum.value < 2020 ? format(datum.value, 'd') : ''",
                    "tickOpacity": {"condition": {"test": "datum.value % 1 !== 0", "value": 0}, "value": 1},
                    "gridColor": {"condition": {"test": "datum.value % 1 !== 0", "value": "#f5f5f5"}, "value": "#ebebeb"}}},
                "y": {"field": "v", "type": "quantitative", "scale": {"domain": [-5.45, 5.45], "nice": false},
                  "axis": {"title": null, "values": [-5,-3.75,-2.5,-1.25,0,1.25,2.5,3.75,5],
                    "labelExpr": "datum.value % 2.5 === 0 ? (datum.value < 0 ? '-' : '') + format(abs(datum.value), '.1f') : ''",
                    "tickOpacity": {"condition": {"test": "datum.value % 2.5 !== 0", "value": 0}, "value": 1},
                    "gridColor": {"condition": {"test": "datum.value % 2.5 !== 0", "value": "#f5f5f5"}, "value": "#ebebeb"}}}
              }
            },
            {
              "data": {"values": [{}]},
              "mark": {"type": "rule", "color": "#ff4d4d", "strokeWidth": 2, "opacity": 0.75},
              "encoding": {"y": {"datum": 0}}
            }
          ]
        },
        {
          "title": "GAS-CNH",
          "width": 587,
          "height": 447,
          "layer": [
            {
              "data": {"name": "cnh"},
              "mark": {"type": "line", "color": "#00688b", "strokeWidth": 1.6},
              "encoding": {
                "x": {"field": "t", "type": "quantitative", "scale": {"domain": [2010.235, 2020.02], "nice": false, "zero": false},
                  "axis": {"title": "(d)", "titleX": 268, "values": [2010.5,2011,2011.5,2012,2012.5,2013,2013.5,2014,2014.5,2015,2015.5,2016,2016.5,2017,2017.5,2018,2018.5,2019,2019.5,2020],
                    "labelExpr": "datum.value % 1 === 0 && datum.value < 2020 ? format(datum.value, 'd') : ''",
                    "tickOpacity": {"condition": {"test": "datum.value % 1 !== 0", "value": 0}, "value": 1},
                    "gridColor": {"condition": {"test": "datum.value % 1 !== 0", "value": "#f5f5f5"}, "value": "#ebebeb"}}},
                "y": {"field": "v", "type": "quantitative", "scale": {"domain": [-5.45, 5.45], "nice": false},
                  "axis": {"title": null, "values": [-5,-3.75,-2.5,-1.25,0,1.25,2.5,3.75,5],
                    "labelExpr": "datum.value % 2.5 === 0 ? (datum.value < 0 ? '-' : '') + format(abs(datum.value), '.1f') : ''",
                    "tickOpacity": {"condition": {"test": "datum.value % 2.5 !== 0", "value": 0}, "value": 1},
                    "gridColor": {"condition": {"test": "datum.value % 2.5 !== 0", "value": "#f5f5f5"}, "value": "#ebebeb"}}}
              }
            },
            {
              "data": {"values": [{}]},
              "mark": {"type": "rule", "color": "#ff4d4d", "strokeWidth": 2, "opacity": 0.75},
              "encoding": {"y": {"datum": 0}}
            }
          ]
        }
      ]
    },
    {
      "title": "GAS-ZAR",
      "width": 587,
      "height": 447,
      "layer": [
        {
          "data": {"name": "zar"},
          "mark": {"type": "line", "color": "#00688b", "strokeWidth": 1.6},
          "encoding": {
            "x": {"field": "t", "type": "quantitative", "scale": {"domain": [2010.235, 2020.02], "nice": false, "zero": false},
              "axis": {"title": "(e)", "titleX": 268, "values": [2010.5,2011,2011.5,2012,2012.5,2013,2013.5,2014,2014.5,2015,2015.5,2016,2016.5,2017,2017.5,2018,2018.5,2019,2019.5,2020],
                "labelExpr": "datum.value % 1 === 0 && datum.value < 2020 ? format(datum.value, 'd') : ''",
                "tickOpacity": {"condition": {"test": "datum.value % 1 !== 0", "value": 0}, "value": 1},
                "gridColor": {"condition": {"test": "datum.value % 1 !== 0", "value": "#f5f5f5"}, "value": "#ebebeb"}}},
            "y": {"field": "v", "type": "quantitative", "scale": {"domain": [-5.45, 5.45], "nice": false},
              "axis": {"title": null, "values": [-5,-3.75,-2.5,-1.25,0,1.25,2.5,3.75,5],
                "labelExpr": "datum.value % 2.5 === 0 ? (datum.value < 0 ? '-' : '') + format(abs(datum.value), '.1f') : ''",
                "tickOpacity": {"condition": {"test": "datum.value % 2.5 !== 0", "value": 0}, "value": 1},
                "gridColor": {"condition": {"test": "datum.value % 2.5 !== 0", "value": "#f5f5f5"}, "value": "#ebebeb"}}}
          }
        },
        {
          "data": {"values": [{}]},
          "mark": {"type": "rule", "color": "#ff4d4d", "strokeWidth": 2, "opacity": 0.75},
          "encoding": {"y": {"datum": 0}}
        }
      ]
    }
  ],
  "spacing": 11,
  "center": true,
  "config": {
    "concat": {"spacing": 57},
    "view": {"stroke": "#b3b3b3", "strokeWidth": 1.5},
    "axis": {
      "domain": false,
      "labelFont": "Liberation Sans",
      "labelFontSize": 23,
      "labelFontWeight": "bold",
      "labelColor": "#4d4d4d",
      "labelPadding": 0,
      "labelOverlap": false,
      "labelFlush": false,
      "tickColor": "#b3b3b3",
      "tickSize": 4,
      "tickWidth": 1,
      "gridWidth": 1
    },
    "axisY": {"labelPadding": 2},
    "axisX": {
      "titleFont": "DejaVu Serif",
      "titleFontSize": 28,
      "titleFontWeight": "normal",
      "titleColor": "#000000",
      "titlePadding": 35
    },
    "title": {
      "font": "Liberation Sans",
      "fontSize": 27,
      "fontWeight": "bold",
      "color": "#000000",
      "offset": 6
    }
  }
}
